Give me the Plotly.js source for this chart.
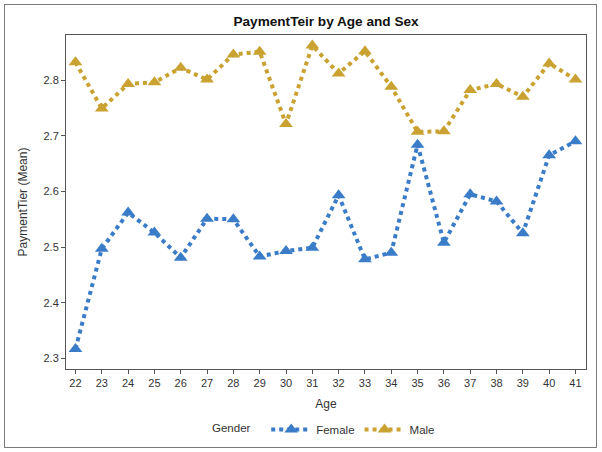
<!DOCTYPE html>
<html>
<head>
<meta charset="utf-8">
<script src="https://cdn.plot.ly/plotly-3.0.1.min.js"></script>
<style>
  html, body { margin: 0; padding: 0; background: #fff; }
  #wrap { position: relative; width: 602px; height: 452px; }
  #chart { width: 602px; height: 452px; }
  #frame { position: absolute; left: 4px; top: 4px; width: 591px; height: 442px; border: 1px solid #7a7a7a; pointer-events: none; }
</style>
</head>
<body>
<div id="wrap"><div id="chart"></div><div id="frame"></div></div>
<script>
const ages = [22, 23, 24, 25, 26, 27, 28, 29, 30, 31, 32, 33, 34, 35, 36, 37, 38, 39, 40, 41];
const femaleMean = [2.317, 2.497, 2.562, 2.526, 2.481, 2.551, 2.550, 2.483, 2.493, 2.499, 2.593, 2.478, 2.490, 2.684, 2.508, 2.595, 2.582, 2.525, 2.665, 2.690];
const maleMean = [2.832, 2.749, 2.793, 2.796, 2.822, 2.801, 2.846, 2.851, 2.721, 2.862, 2.812, 2.852, 2.788, 2.707, 2.708, 2.782, 2.793, 2.770, 2.830, 2.801];
const seriesNames = ["Female", "Male"];
const legendTitle = "Gender";
const yTicks = [2.3, 2.4, 2.5, 2.6, 2.7, 2.8];

const FONT = "Liberation Sans, Arial, sans-serif";
const blue = "#3a7cc8";
const gold = "#c9a231";

function trace(name, y, color) {
  return {
    type: "scatter", mode: "lines+markers", name: name,
    x: ages, y: y,
    line: { color: color, width: 4, dash: "4px,4px" },
    marker: { symbol: "triangle-up", size: 12, color: color, line: { width: 0 } }
  };
}

const data = [
  trace(seriesNames[0], femaleMean, blue),
  trace(seriesNames[1], maleMean, gold)
];

const layout = {
  width: 602, height: 452,
  margin: { l: 66, r: 16, t: 35, b: 83, autoexpand: false },
  paper_bgcolor: "#fff", plot_bgcolor: "#fff",
  font: { family: FONT, size: 11, color: "#333" },
  title: {
    text: "<b>PaymentTeir by Age and Sex</b>",
    font: { family: FONT, size: 13.6, color: "#111" },
    x: 0.5416, xanchor: "center", y: 0.952, yanchor: "middle"
  },
  showlegend: true,
  legend: {
    orientation: "h", x: 0.385, xanchor: "left", y: -0.181, yanchor: "middle",
    font: { family: FONT, size: 11.5, color: "#333" },
    bgcolor: "rgba(0,0,0,0)", itemwidth: 40
  },
  annotations: [{
    text: legendTitle, xref: "paper", yref: "paper",
    x: (231 - 66) / 520, y: (369 - 428) / 334, xanchor: "center", yanchor: "middle",
    showarrow: false, font: { family: FONT, size: 11.5, color: "#333" }
  }],
  xaxis: {
    range: [21.64, 41.4], tickmode: "array", tickvals: ages, ticktext: ages.map(String),
    showgrid: false, zeroline: false,
    showline: true, mirror: true, linecolor: "#555", linewidth: 1,
    ticks: "outside", ticklen: 4, tickcolor: "#555",
    tickfont: { family: FONT, size: 11, color: "#333" },
    title: { text: "Age", font: { family: FONT, size: 12, color: "#333" }, standoff: 11 }
  },
  yaxis: {
    range: [2.281, 2.881], tickmode: "array", tickvals: yTicks, ticktext: yTicks.map(v => v.toFixed(1)),
    showgrid: false, zeroline: false,
    showline: true, mirror: true, linecolor: "#555", linewidth: 1,
    ticks: "outside", ticklen: 4, tickcolor: "#555",
    tickfont: { family: FONT, size: 11, color: "#333" },
    title: { text: "PaymentTier (Mean)", font: { family: FONT, size: 12, color: "#333" }, standoff: 13 }
  }
};

Plotly.newPlot("chart", data, layout, { displayModeBar: false, staticPlot: true });
</script>
</body>
</html>
